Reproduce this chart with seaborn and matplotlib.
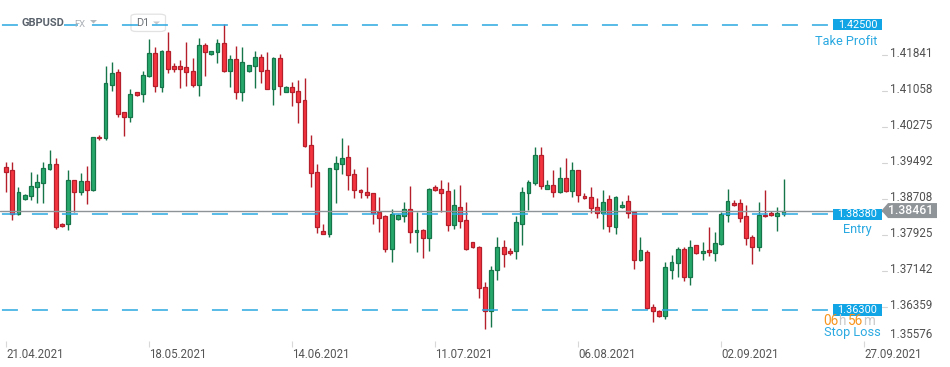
import matplotlib
matplotlib.use("Agg")
import matplotlib.pyplot as plt
import numpy as np
import seaborn as sns
from matplotlib import transforms
from matplotlib.patches import Rectangle, Polygon, FancyBboxPatch

sns.set_theme(style="white")
plt.rcParams["font.family"] = ["Roboto", "DejaVu Sans"]
plt.rcParams["lines.scale_dashes"] = False

# ---------------- data (GBPUSD, D1) ----------------
open_ = [1.3940, 1.3934, 1.3838, 1.3871, 1.3878, 1.3897, 1.3905, 1.3936, 1.3947, 1.3818,
         1.3816, 1.3912, 1.3886, 1.3910, 1.3890, 1.4007, 1.4003, 1.4120, 1.4147, 1.4060,
         1.4049, 1.4103, 1.4099, 1.4138, 1.4188, 1.4115, 1.4192, 1.4160, 1.4160, 1.4157,
         1.4149, 1.4120, 1.4205, 1.4186, 1.4190, 1.4210, 1.4149, 1.4175, 1.4103, 1.4149,
         1.4160, 1.4179, 1.4151, 1.4111, 1.4177, 1.4104, 1.4114, 1.4107, 1.4086, 1.3988,
         1.3929, 1.3801, 1.3796, 1.3936, 1.3947, 1.3962, 1.3925, 1.3890, 1.3886, 1.3884,
         1.3842, 1.3834, 1.3762, 1.3827, 1.3834, 1.3849, 1.3799, 1.3803, 1.3786, 1.3897,
         1.3892, 1.3888, 1.3814, 1.3853, 1.3825, 1.3777, 1.3768, 1.3679, 1.3627, 1.3716,
         1.3768, 1.3758, 1.3758, 1.3816, 1.3884, 1.3905, 1.3966, 1.3894, 1.3901, 1.3886,
         1.3916, 1.3888, 1.3934, 1.3877, 1.3875, 1.3853, 1.3840, 1.3871, 1.3810, 1.3853,
         1.3866, 1.3842, 1.3738, 1.3755, 1.3636, 1.3627, 1.3616, 1.3718, 1.3732, 1.3762,
         1.3701, 1.3771, 1.3753, 1.3760, 1.3753, 1.3773, 1.3836, 1.3862, 1.3862, 1.3834,
         1.3788, 1.3768, 1.3836, 1.3840, 1.3834, 1.3838]
high = [1.3951, 1.3951, 1.3897, 1.3883, 1.3929, 1.3925, 1.3951, 1.3977, 1.3960, 1.3819,
        1.3934, 1.3913, 1.3927, 1.3943, 1.4007, 1.4010, 1.4160, 1.4168, 1.4153, 1.4061,
        1.4111, 1.4104, 1.4149, 1.4220, 1.4201, 1.4195, 1.4235, 1.4167, 1.4173, 1.4212,
        1.4178, 1.4221, 1.4210, 1.4193, 1.4219, 1.4251, 1.4184, 1.4203, 1.4201, 1.4163,
        1.4192, 1.4186, 1.4190, 1.4179, 1.4186, 1.4116, 1.4125, 1.4129, 1.4134, 1.4010,
        1.3947, 1.3816, 1.3939, 1.3964, 1.4003, 1.3988, 1.3936, 1.3892, 1.3940, 1.3885,
        1.3875, 1.3836, 1.3849, 1.3838, 1.3864, 1.3899, 1.3842, 1.3805, 1.3895, 1.3901,
        1.3912, 1.3908, 1.3892, 1.3901, 1.3864, 1.3778, 1.3769, 1.3690, 1.3725, 1.3788,
        1.3782, 1.3764, 1.3834, 1.3897, 1.3912, 1.3984, 1.3984, 1.3912, 1.3934, 1.3940,
        1.3960, 1.3951, 1.3935, 1.3884, 1.3897, 1.3873, 1.3890, 1.3879, 1.3877, 1.3866,
        1.3880, 1.3844, 1.3788, 1.3760, 1.3642, 1.3629, 1.3734, 1.3749, 1.3768, 1.3768,
        1.3782, 1.3772, 1.3777, 1.3810, 1.3799, 1.3842, 1.3892, 1.3868, 1.3871, 1.3858,
        1.3792, 1.3864, 1.3890, 1.3845, 1.3853, 1.3914]
low = [1.3887, 1.3826, 1.3836, 1.3869, 1.3868, 1.3862, 1.3862, 1.3935, 1.3805, 1.3811,
       1.3803, 1.3842, 1.3879, 1.3860, 1.3889, 1.3999, 1.3999, 1.4105, 1.4050, 1.4009,
       1.4039, 1.4096, 1.4081, 1.4137, 1.4103, 1.4104, 1.4144, 1.4147, 1.4113, 1.4117,
       1.4115, 1.4094, 1.4139, 1.4185, 1.4167, 1.4148, 1.4115, 1.4089, 1.4085, 1.4148,
       1.4113, 1.4124, 1.4110, 1.4076, 1.4098, 1.4103, 1.4074, 1.4037, 1.3985, 1.3898,
       1.3798, 1.3795, 1.3789, 1.3863, 1.3926, 1.3891, 1.3874, 1.3874, 1.3874, 1.3818,
       1.3800, 1.3757, 1.3735, 1.3826, 1.3821, 1.3776, 1.3757, 1.3744, 1.3759, 1.3889,
       1.3842, 1.3802, 1.3805, 1.3808, 1.3761, 1.3765, 1.3657, 1.3588, 1.3594, 1.3695,
       1.3723, 1.3749, 1.3740, 1.3771, 1.3847, 1.3901, 1.3892, 1.3893, 1.3875, 1.3885,
       1.3887, 1.3875, 1.3864, 1.3872, 1.3840, 1.3829, 1.3805, 1.3799, 1.3795, 1.3852,
       1.3831, 1.3720, 1.3736, 1.3633, 1.3605, 1.3614, 1.3610, 1.3697, 1.3701, 1.3692,
       1.3684, 1.3752, 1.3738, 1.3747, 1.3736, 1.3771, 1.3821, 1.3857, 1.3821, 1.3771,
       1.3729, 1.3758, 1.3833, 1.3834, 1.3801, 1.3834]
close = [1.3931, 1.3839, 1.3887, 1.3881, 1.3899, 1.3908, 1.3938, 1.3947, 1.3811, 1.3813,
         1.3912, 1.3886, 1.3910, 1.3890, 1.4005, 1.4003, 1.4123, 1.4144, 1.4057, 1.4049,
         1.4099, 1.4097, 1.4140, 1.4188, 1.4116, 1.4193, 1.4154, 1.4154, 1.4154, 1.4147,
         1.4120, 1.4205, 1.4190, 1.4192, 1.4210, 1.4149, 1.4175, 1.4103, 1.4170, 1.4162,
         1.4179, 1.4149, 1.4111, 1.4177, 1.4117, 1.4114, 1.4104, 1.4083, 1.3986, 1.3928,
         1.3811, 1.3796, 1.3938, 1.3949, 1.3960, 1.3923, 1.3890, 1.3886, 1.3881, 1.3840,
         1.3831, 1.3762, 1.3838, 1.3836, 1.3849, 1.3799, 1.3803, 1.3786, 1.3894, 1.3891,
         1.3885, 1.3814, 1.3858, 1.3823, 1.3762, 1.3766, 1.3677, 1.3627, 1.3718, 1.3768,
         1.3751, 1.3753, 1.3821, 1.3886, 1.3908, 1.3966, 1.3899, 1.3901, 1.3886, 1.3916,
         1.3888, 1.3934, 1.3879, 1.3873, 1.3851, 1.3840, 1.3864, 1.3812, 1.3875, 1.3858,
         1.3840, 1.3738, 1.3760, 1.3634, 1.3627, 1.3616, 1.3723, 1.3734, 1.3762, 1.3701,
         1.3768, 1.3753, 1.3758, 1.3755, 1.3775, 1.3838, 1.3866, 1.3858, 1.3829, 1.3786,
         1.3768, 1.3836, 1.3834, 1.3836, 1.3840, 1.38461]

date_labels = ["21.04.2021", "18.05.2021", "14.06.2021", "11.07.2021",
               "06.08.2021", "02.09.2021", "27.09.2021"]
price_ticks = [1.41841, 1.41058, 1.40275, 1.39492, 1.38708,
               1.37925, 1.37142, 1.36359, 1.35576]
take_profit = 1.42500
entry_price = 1.38380
stop_loss = 1.36300
symbol = "GBPUSD"
market = "FX"
timeframe = "D1"
timer_parts = ["06", "h", "56", "m"]

# ---------------- layout ----------------
W, H, DPI = 950, 367, 100
fig = plt.figure(figsize=(W / DPI, H / DPI), dpi=DPI)
fig.patch.set_facecolor("white")
AX_R, AX_B = 887, 26              # axes right edge (px), bottom margin (px)
ax = fig.add_axes([0, AX_B / H, AX_R / W, (H - AX_B) / H])
ax.set_facecolor("none")
for s in ax.spines.values():
    s.set_visible(False)

Y_TOP, Y_BOT = 1.430367, 1.356268
ax.set_ylim(Y_BOT, Y_TOP)
STEP_PX, FIRST_PX = 6.22, 6.0
ax.set_xlim(-FIRST_PX / STEP_PX, (AX_R - FIRST_PX) / STEP_PX)
ppx = (Y_TOP - Y_BOT) / (H - AX_B)          # price per pixel

o = np.array(open_); c = np.array(close); hi = np.array(high); lo = np.array(low)
x = np.arange(len(c))
up = c >= o
GREEN_FILL, GREEN_EDGE = "#27a86b", "#16764a"
RED_FILL, RED_EDGE = "#f4343f", "#b51f2c"
edge_cols = np.where(up, GREEN_EDGE, RED_EDGE)
fill_cols = np.where(up, GREEN_FILL, RED_FILL)

ax.vlines(x, lo, hi, colors=edge_cols, linewidth=1.0, zorder=2)
body_h = np.maximum(np.abs(c - o), 0.00022)
ax.bar(x, body_h, bottom=np.minimum(o, c), width=0.62, color=fill_cols,
       edgecolor=edge_cols, linewidth=0.9, zorder=3)

# current price line
last_price = close[-1]
ax.axhline(last_price, color="#8e9398", linewidth=1.0, zorder=3.5)

# TP / Entry / SL dashed lines
BLUE_LINE = "#2aa8e2"
BLUE_BOX = "#12a5e6"
BLUE_TXT = "#2aa9e1"
for lvl in (take_profit, entry_price, stop_loss):
    ax.axhline(lvl, xmin=0, xmax=828 / AX_R, color=BLUE_LINE, linewidth=1.1,
               linestyle=(20.2, (11.5, 10.1)), zorder=4)

trans = transforms.blended_transform_factory(fig.transFigure, ax.transData)

for lvl in (take_profit, entry_price, stop_loss):
    ax.add_patch(Rectangle((833 / W, lvl - 5.6 * ppx), 49 / W, 11.2 * ppx,
                           transform=trans, facecolor=BLUE_BOX, edgecolor="none",
                           zorder=6, clip_on=False))
    ax.text(857.5 / W, lvl, f"{lvl:.5f}", transform=trans, color="white",
            ha="center", va="center", fontsize=7.8, zorder=7, clip_on=False)

ax.text(846.5 / W, take_profit - 17.2 * ppx, "Take Profit", transform=trans,
        color=BLUE_TXT, ha="center", va="center", fontsize=9.2, clip_on=False)
ax.text(857.5 / W, entry_price - 15.0 * ppx, "Entry", transform=trans,
        color=BLUE_TXT, ha="center", va="center", fontsize=9.2, clip_on=False)
ax.text(852 / W, stop_loss - 22.6 * ppx, "Stop Loss", transform=trans,
        color=BLUE_TXT, ha="center", va="center", fontsize=9.2, clip_on=False)

# countdown timer: pieces laid side by side (orange digits, grey units)
TFS = 9.8
ty = stop_loss - 11.0 * ppx
renderer = fig.canvas.get_renderer()
cursor = 823.0
gaps = [-0.4, 3.0, -0.4, 0.0]
for part, gap in zip(timer_parts, gaps):
    col = "#f7941d" if part[0].isdigit() else "#c8c8c8"
    t = ax.text(cursor / W, ty, part, transform=trans, color=col, ha="left",
                va="center", fontsize=TFS, zorder=8, clip_on=False)
    cursor = t.get_window_extent(renderer=renderer).x1 + gap

# right price scale
for p in price_ticks:
    if p >= Y_BOT + 3 * ppx:
        ax.plot([882 / W, 887 / W], [p, p], transform=trans, color="#d3d3d3",
                linewidth=0.8, clip_on=False)
        ax.text(890 / W, p + 1.5 * ppx, f"{p:.5f}", transform=trans, color="#505050",
                ha="left", va="center", fontsize=8.4, clip_on=False)
    else:
        ax.text(890 / W, Y_BOT, f"{p:.5f}", transform=trans, color="#505050",
                ha="left", va="bottom", fontsize=8.4, clip_on=False)

# current price tag
tag = Polygon([(881.5 / W, last_price), (888 / W, last_price + 7.5 * ppx),
               (937 / W, last_price + 7.5 * ppx), (937 / W, last_price - 7.5 * ppx),
               (888 / W, last_price - 7.5 * ppx)], closed=True, transform=trans,
              facecolor="#8f9499", edgecolor="none", zorder=9, clip_on=False)
ax.add_patch(tag)
ax.text(911 / W, last_price, f"{last_price:.5f}", transform=trans, color="white",
        ha="center", va="center", fontsize=8.8, fontweight="medium", zorder=10,
        clip_on=False)

# date axis
ax.set_yticks([])
ax.set_xticks(np.arange(len(date_labels)) * 23)
ax.set_xticklabels(date_labels, ha="left")
ax.tick_params(axis="x", bottom=True, length=4, width=0.8, color="#d8d8d8",
               labelcolor="#555555", labelsize=8.3, pad=1)

# header
fig.text(21 / W, 1 - 23.5 / H, symbol, color="#58606a", fontsize=7.9,
         fontweight="semibold", va="center", ha="left", zorder=10,
         bbox=dict(facecolor="white", edgecolor="none", pad=0.3))
fig.text(74 / W, 1 - 24.5 / H, market, color="#aab0b6", fontsize=6.8,
         va="center", ha="left", zorder=10)
fig.add_artist(Polygon([(90 / W, 1 - 20 / H), (97 / W, 1 - 20 / H), (93.5 / W, 1 - 23.5 / H)],
                       closed=True, transform=fig.transFigure, facecolor="#b4b9be",
                       edgecolor="none", zorder=10))
fig.add_artist(FancyBboxPatch((131 / W, 1 - 31.5 / H), 34.5 / W, 17.3 / H,
                              boxstyle="round,pad=0,rounding_size=0.006",
                              transform=fig.transFigure, facecolor="white",
                              edgecolor="#e2e2e2", linewidth=0.9, zorder=-1))
fig.text(136 / W, 1 - 23.5 / H, timeframe, color="#6e7378", fontsize=7.9,
         va="center", ha="left", zorder=-0.5)
fig.add_artist(Polygon([(153 / W, 1 - 21.5 / H), (160 / W, 1 - 21.5 / H), (156.5 / W, 1 - 24.5 / H)],
                       closed=True, transform=fig.transFigure, facecolor="#c3c7cb",
                       edgecolor="none", zorder=-0.5))

fig.savefig("out.png", dpi=DPI, facecolor="white")
